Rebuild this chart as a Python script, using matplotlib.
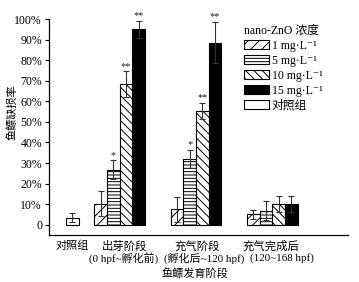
import matplotlib
matplotlib.use("Agg")
import matplotlib.pyplot as plt
import matplotlib.transforms as mtransforms
from matplotlib.patches import Patch
import numpy as np

plt.rcParams['font.family'] = ['Liberation Serif', 'DejaVu Serif', 'Noto Sans CJK SC']
plt.rcParams['hatch.linewidth'] = 0.7

# ---- data ----
stage_line1 = ['出芽阶段', '充气阶段', '充气完成后']
stage_line2 = ['(0 hpf~孵化前)', '(孵化后~120 hpf)', '(120~168 hpf)']
control_label = '对照组'
conc_labels = ['1 mg·L⁻¹', '5 mg·L⁻¹', '10 mg·L⁻¹', '15 mg·L⁻¹']
control_value = 3.5
control_err = 2.3
vals_1 = [10.3, 7.5, 5.0]
vals_5 = [26.8, 32.0, 6.8]
vals_10 = [68.3, 55.3, 10.0]
vals_15 = [95.0, 88.5, 10.0]
err_1 = [6.0, 6.2, 2.0]
err_5 = [4.5, 4.4, 4.5]
err_10 = [6.3, 4.1, 3.8]
err_15 = [4.2, 10.0, 3.8]
stars_1 = ['', '', '']
stars_5 = ['*', '*', '']
stars_10 = ['**', '**', '']
stars_15 = ['**', '**', '']
yticks = [0, 10, 20, 30, 40, 50, 60, 70, 80, 90, 100]
ytick_labels = ['0', '10%', '20%', '30%', '40%', '50%', '60%', '70%', '80%', '90%', '100%']

series_vals = [vals_1, vals_5, vals_10, vals_15]
series_err = [err_1, err_5, err_10, err_15]
series_stars = [stars_1, stars_5, stars_10, stars_15]

# ---- layout / styles ----
hatches = ['///', '-----', '\\\\\\\\', None]
faces = ['white', 'white', 'white', 'black']
control_x = 1.85
group_left = np.array([3.6, 9.65, 15.7])
bw = 1.0
line1_x = [5.95, 11.75, 17.6]
line2_x = [5.95, 12.34, 18.5]

fig = plt.figure(figsize=(3.59, 2.82), dpi=100)
ax = fig.add_axes([49/359, 1-235/282, (348-49)/359, (235-19)/282])

ekw = dict(ecolor='#333333', elinewidth=0.8, capthick=0.8)
ax.bar(control_x, control_value, width=bw, color='white', edgecolor='black', lw=0.8,
       yerr=control_err, capsize=2.2, error_kw=ekw, zorder=2)

for i in range(4):
    xs = group_left + i * bw + bw / 2
    ax.bar(xs, series_vals[i], width=bw, color=faces[i], edgecolor='black', lw=0.8,
           hatch=hatches[i], yerr=series_err[i], capsize=2.2, error_kw=ekw, zorder=2)
    for x, v, e, s in zip(xs, series_vals[i], series_err[i], series_stars[i]):
        if s:
            ax.text(x, v + e + 0.3, s, ha='center', va='bottom', fontsize=7.5,
                    color='#222222')

ax.set_xlim(0, 23.7)
ax.set_ylim(-5, 100)
ax.set_yticks(yticks)
ax.set_yticklabels(ytick_labels, fontsize=8.5)
ax.tick_params(axis='y', direction='out', length=3, width=0.8, pad=2)
ax.set_xticks([])
for side in ['top', 'right']:
    ax.spines[side].set_visible(False)
for side in ['left', 'bottom']:
    ax.spines[side].set_linewidth(0.9)

trans = mtransforms.blended_transform_factory(ax.transData, fig.transFigure)
ax.text(control_x, 1-246/282, control_label, transform=trans, ha='center', va='center',
        fontsize=8)
for x1, x2, t1, t2 in zip(line1_x, line2_x, stage_line1, stage_line2):
    ax.text(x1, 1-246/282, t1, transform=trans, ha='center', va='center', fontsize=8.2)
    ax.text(x2, 1-258.5/282, t2, transform=trans, ha='center', va='center', fontsize=7.9)

fig.text(194.5/359, 1-273/282, '鱼鳔发育阶段', ha='center', va='center', fontsize=8)
fig.text(12/359, 1-112/282, '鱼鳔缺损率', ha='center', va='center', rotation=90, fontsize=8)

handles = [Patch(facecolor=faces[i], edgecolor='black', hatch=hatches[i], lw=0.8)
           for i in range(4)]
handles.append(Patch(facecolor='white', edgecolor='black', lw=0.8))
leg = fig.legend(handles, conc_labels + [control_label], title='nano-ZnO 浓度',
                 loc='upper left', bbox_to_anchor=(237/359, 1-18/282), frameon=False,
                 fontsize=8.5, title_fontsize=8.5, handlelength=2.1, handleheight=0.8,
                 handletextpad=0.25, labelspacing=0.25, borderpad=0.1,
                 alignment='left')

fig.savefig('out.png', dpi=100)
